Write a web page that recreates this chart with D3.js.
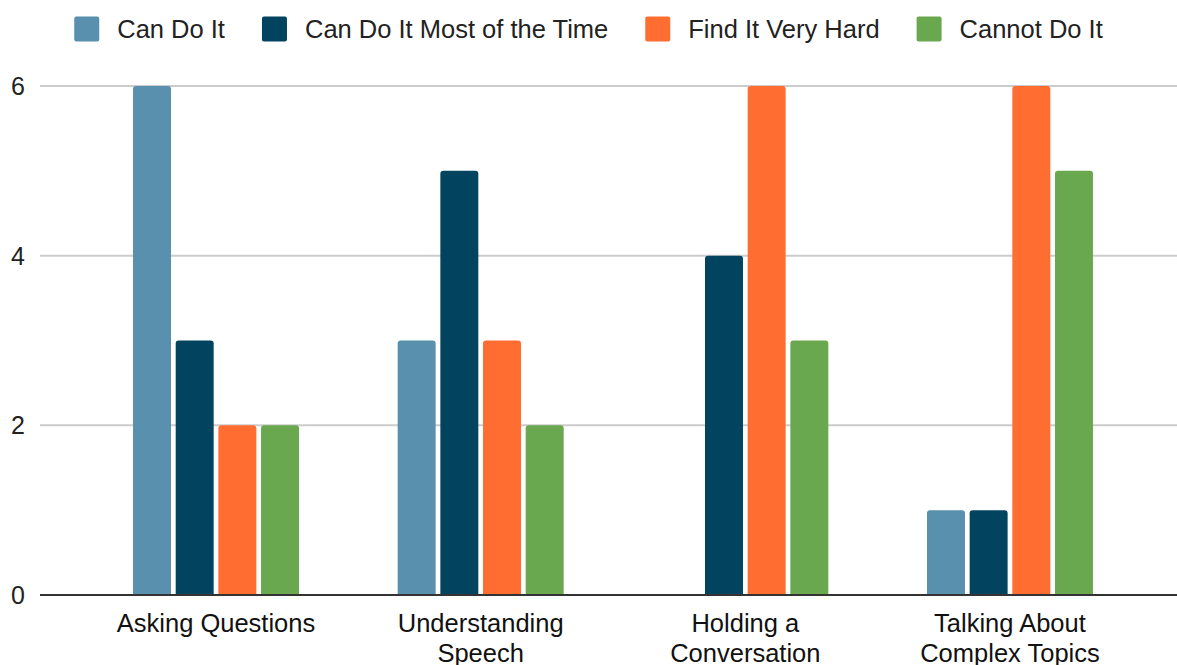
<!DOCTYPE html>
<html>
<head>
<meta charset="utf-8">
<script src="https://cdn.jsdelivr.net/npm/d3@7"></script>
<style>
  body { margin: 0; background: #fff; }
  svg { display: block; font-family: "Liberation Sans", Arial, sans-serif; }
</style>
</head>
<body>
<svg id="chart"></svg>
<script>
// data
const categories = ['Asking Questions', 'Understanding Speech', 'Holding a Conversation', 'Talking About Complex Topics'];
const categoryLines = [['Asking Questions'], ['Understanding', 'Speech'], ['Holding a', 'Conversation'], ['Talking About', 'Complex Topics']];
const seriesNames = ['Can Do It', 'Can Do It Most of the Time', 'Find It Very Hard', 'Cannot Do It'];
const canDoIt = [6, 3, 0, 1];
const mostOfTheTime = [3, 5, 4, 1];
const veryHard = [2, 3, 6, 6];
const cannotDoIt = [2, 2, 3, 5];
const yTicks = [0, 2, 4, 6];
const colors = ['#5990ae', '#02445f', '#ff6d31', '#6aa84f'];

const W = 1177, H = 665;
const svg = d3.select('#chart').attr('width', W).attr('height', H);

const margin = {top: 86, bottom: 70, left: 40, right: 0};

const series = [canDoIt, mostOfTheTime, veryHard, cannotDoIt];
const rows = categories.map((c, i) => ({
  cat: c,
  lines: categoryLines[i],
  vals: series.map((s, j) => ({key: seriesNames[j], v: s[i], color: colors[j]}))
}));

const y = d3.scaleLinear()
  .domain([0, 6])
  .range([H - margin.bottom, margin.top]);

const x0 = d3.scaleBand()
  .domain(categories)
  .range([83.7, 1142.3])
  .padding(0);

const groupW = 166;
const x1 = d3.scaleBand()
  .domain(seriesNames)
  .range([(x0.bandwidth() - groupW) / 2, (x0.bandwidth() + groupW) / 2])
  .paddingInner(0.11);

// gridlines
svg.append('g')
  .selectAll('line')
  .data(yTicks.filter(d => d !== 0))
  .join('line')
  .attr('x1', margin.left)
  .attr('x2', W)
  .attr('y1', d => y(d))
  .attr('y2', d => y(d))
  .attr('stroke', '#cccccc')
  .attr('stroke-width', 2);

// y tick labels
svg.append('g')
  .selectAll('text')
  .data(yTicks)
  .join('text')
  .attr('x', 25)
  .attr('y', d => y(d))
  .attr('dy', '0.36em')
  .attr('text-anchor', 'end')
  .attr('font-size', 25)
  .attr('fill', '#222')
  .text(d => d);

// bars (rounded top)
const barPath = (x, yTop, w, yBot, r) => {
  const h = yBot - yTop;
  if (h <= 0) return '';
  r = Math.min(r, h, w / 2);
  return 'M' + x + ',' + yBot +
    'V' + (yTop + r) +
    'Q' + x + ',' + yTop + ' ' + (x + r) + ',' + yTop +
    'H' + (x + w - r) +
    'Q' + (x + w) + ',' + yTop + ' ' + (x + w) + ',' + (yTop + r) +
    'V' + yBot + 'Z';
};

const groups = svg.append('g')
  .selectAll('g')
  .data(rows)
  .join('g')
  .attr('transform', d => 'translate(' + x0(d.cat) + ',0)');

groups.selectAll('path')
  .data(d => d.vals)
  .join('path')
  .attr('d', d => barPath(x1(d.key), y(d.v), x1.bandwidth(), y(0), 3))
  .attr('fill', d => d.color);

// baseline
svg.append('line')
  .attr('x1', margin.left)
  .attr('x2', W)
  .attr('y1', y(0))
  .attr('y2', y(0))
  .attr('stroke', '#333')
  .attr('stroke-width', 2);

// x labels
const xl = svg.append('g')
  .selectAll('text')
  .data(rows)
  .join('text')
  .attr('x', d => x0(d.cat) + x0.bandwidth() / 2)
  .attr('y', 632)
  .attr('text-anchor', 'middle')
  .attr('font-size', 25.5)
  .attr('fill', '#111');

xl.selectAll('tspan')
  .data(d => d.lines)
  .join('tspan')
  .attr('x', function() { return this.parentNode.getAttribute('x'); })
  .attr('dy', (d, i) => i === 0 ? 0 : 30)
  .text(d => d);

// legend
const legend = svg.append('g');
const items = legend.selectAll('g')
  .data(seriesNames)
  .join('g');

items.append('rect')
  .attr('width', 25)
  .attr('height', 25)
  .attr('y', 16.5)
  .attr('rx', 2)
  .attr('fill', (d, i) => colors[i]);

items.append('text')
  .attr('x', 43)
  .attr('y', 29)
  .attr('dy', '0.36em')
  .attr('font-size', 25.5)
  .attr('fill', '#222')
  .text(d => d);

const gap = 37;
let offset = 0;
const pos = [];
items.each(function() {
  const tw = d3.select(this).select('text').node().getComputedTextLength();
  pos.push(offset);
  offset += 43 + tw + gap;
});
const total = offset - gap;
const startX = (W - total) / 2;
items.attr('transform', (d, i) => 'translate(' + (startX + pos[i]) + ',0)');
</script>
</body>
</html>
